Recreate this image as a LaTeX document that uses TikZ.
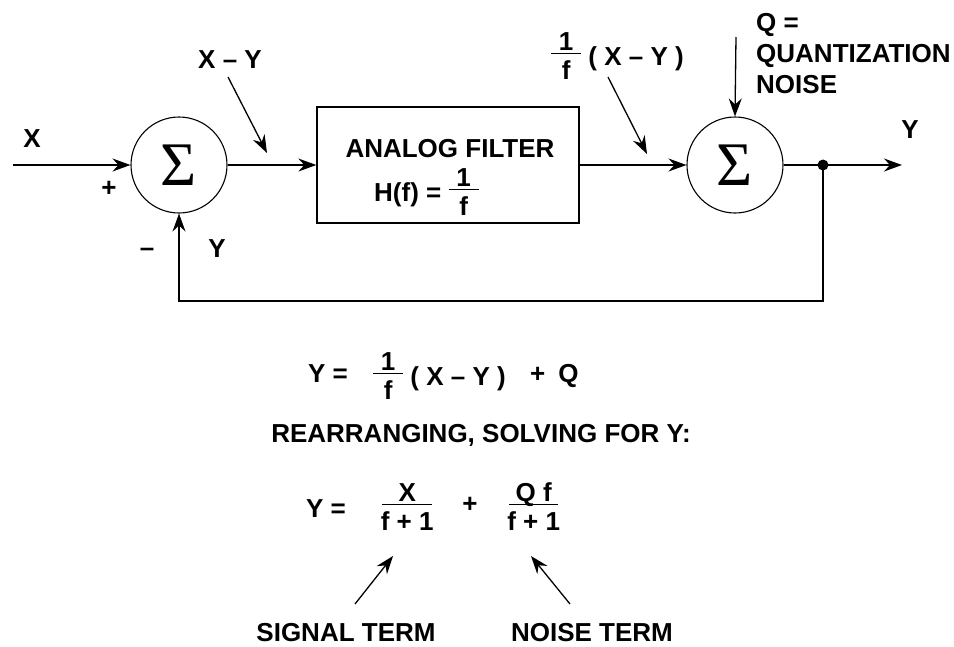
\documentclass[tikz,border=0pt]{standalone}
\usepackage{fontspec}
\setmainfont{Liberation Sans}
\newfontfamily\sigmafont{Liberation Serif}
\usetikzlibrary{arrows.meta}

% stacked fraction: numerator, rule, denominator
\newcommand{\frc}[3][30pt]{\begin{tabular}{@{}c@{}}\makebox[#1]{#2}\\[-7pt]\hline\rule{0pt}{25pt}\makebox[#1]{#3}\end{tabular}}
\setlength{\arrayrulewidth}{1.3pt}

\begin{document}
\begin{tikzpicture}[
  x=1pt, y=-1pt,
  font=\fontsize{26}{31}\selectfont\bfseries,
  % Circles for summing junctions
  sumnode/.style={circle, draw, line width=1.1pt, minimum size=96pt,
    inner sep=0pt, font=\fontsize{62}{62}\selectfont\sigmafont},
  % Plain rectangle for the filter block
  blockbox/.style={rectangle, draw, line width=1.3pt,
    minimum width=262pt, minimum height=116pt},
  % Text labels
  lbl/.style={inner sep=0pt},
  % Signal lines with stealth heads
  sig/.style={draw, line width=1.3pt,
    -{Stealth[length=18pt, width=13pt, inset=6pt]}},
]
  \useasboundingbox (0,0) rectangle (954,646);

  % === Loop blocks ===
  \node[sumnode] (sumA) at (179,165) {Σ};
  \node[blockbox] (filter) at (448,165) {};
  \node[sumnode] (sumB) at (735,165) {Σ};

  \node[lbl, anchor=base] (ftitle) at (450,157) {ANALOG FILTER};
  \node[lbl, anchor=base west] (ftf) at (374,201) {H(f) = \frc{1}{f}};

  % === Free ends ===
  \coordinate (xin) at (13,165);
  \coordinate (yout) at (902,165);
  \coordinate (tap) at (823,165);
  \coordinate (fb) at (179,301);
  \coordinate (qtop) at (736,37);

  % === Signal path ===
  \path[sig] (xin) -- (sumA.west);
  \path[sig] (sumA.east) -- (filter.west);
  \path[sig] (filter.east) -- (sumB.west);
  \path[sig] (sumB.east) -- (yout);
  \path[sig] (qtop) -- (sumB.north);
  \path[sig] (tap) |- (fb) -- (sumA.south);
  \fill (tap) circle (5.5pt);

  % === Loop labels ===
  \node[lbl, anchor=base] (xlab) at (32,147) {X};
  \node[lbl, anchor=base] (plus) at (109,196) {+};
  \node[lbl, anchor=base] (minus) at (147,256) {–};
  \node[lbl, anchor=base] (yfb) at (217,257) {Y};
  \node[lbl, anchor=base] (ylab) at (910,138) {Y};
  \node[lbl, anchor=north west, align=left] (qlab) at (756,13)
    {Q =\\QUANTIZATION\\NOISE};

  % === Annotations with pointers ===
  \node[lbl, anchor=base] (err) at (230,68) {X – Y};
  \node[lbl, anchor=base west] (filtout) at (551,65) {\frc{1}{f} ( X – Y )};
  \coordinate (errA) at (228,77);
  \coordinate (errB) at (267,153);
  \coordinate (foA) at (608,77);
  \coordinate (foB) at (647,154);
  \path[sig] (errA) -- (errB);
  \path[sig] (foA) -- (foB);

  % === Equations ===
  \node[lbl, anchor=base west] (eqaY) at (308,382) {Y =};
  \node[lbl, anchor=base west] (eqaF) at (373,385) {\frc{1}{f} ( X – Y )};
  \node[lbl, anchor=base west] (eqaQ) at (530,382) {+\hspace{13pt}Q};

  \node[lbl, anchor=base] (rearr) at (481,442) {REARRANGING, SOLVING FOR Y:};

  \node[lbl, anchor=base west] (eqbY) at (306,517) {Y =};
  \node[lbl, anchor=base west] (sigF) at (382,516) {\frc[50pt]{X}{f + 1}};
  \node[lbl, anchor=base] (eqbP) at (470,512) {+};
  \node[lbl, anchor=base west] (noiF) at (509,516) {\frc[49pt]{Q f}{f + 1}};

  % === Term pointers ===
  \coordinate (sigA) at (355,604);
  \coordinate (sigB) at (393,556);
  \coordinate (noiA) at (570,604);
  \coordinate (noiB) at (531,556);
  \path[sig] (sigA) -- (sigB);
  \path[sig] (noiA) -- (noiB);

  \node[lbl, anchor=base] (sigterm) at (346,641) {SIGNAL TERM};
  \node[lbl, anchor=base] (noiterm) at (592,641) {NOISE TERM};
\end{tikzpicture}
\end{document}
